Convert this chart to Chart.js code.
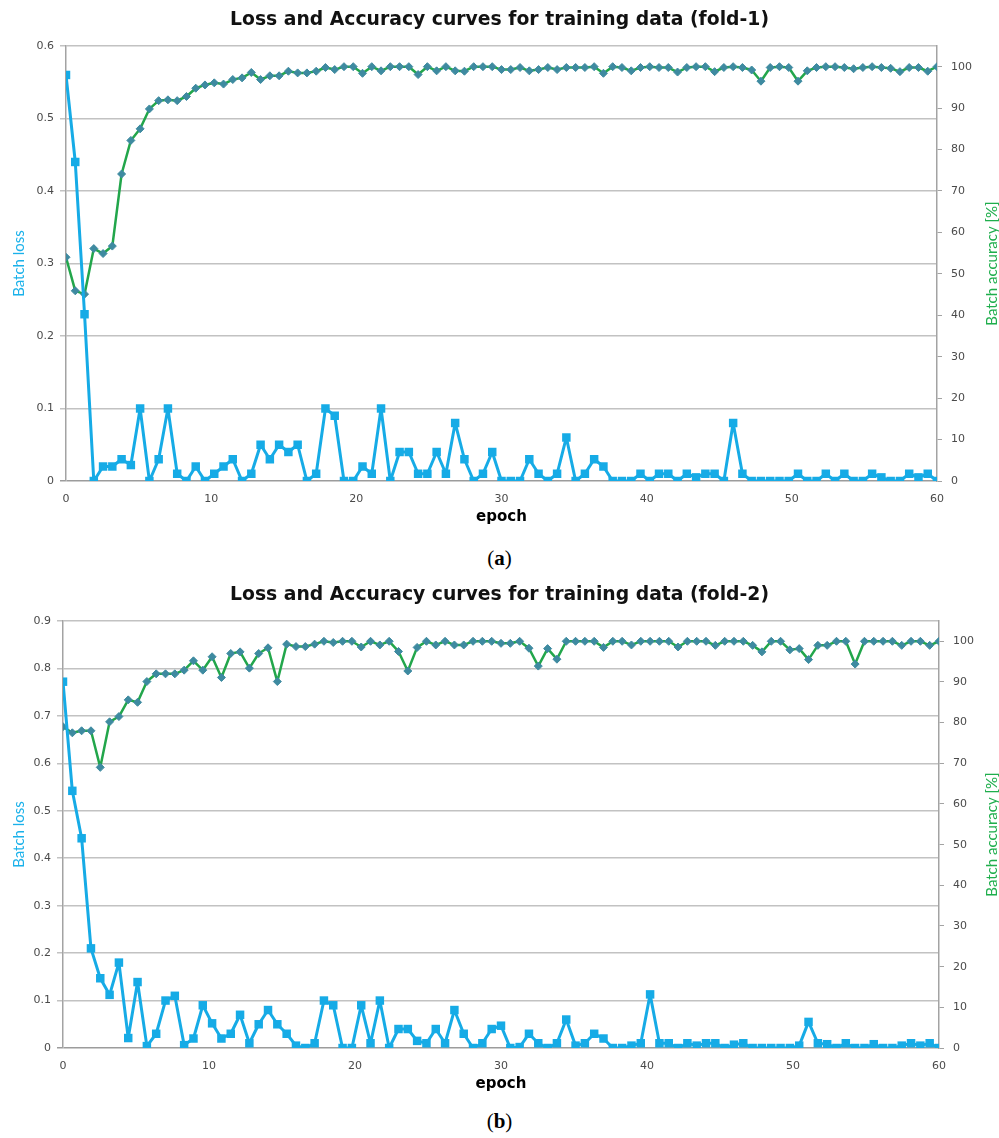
<!DOCTYPE html>
<html>
<head>
<meta charset="utf-8">
<script src="https://cdn.jsdelivr.net/npm/chart.js@4.4.1/dist/chart.umd.min.js"></script>
<style>
  body { margin: 0; background: #fff; width: 999px; height: 1138px; position: relative; overflow: hidden; }
  canvas { position: absolute; left: 0; }
  #chartA { top: 0; }
  #chartB { top: 575px; }
  .cap { position: absolute; left: 0; width: 999px; text-align: center; font: 21px "Liberation Serif", serif; color: #000; }
</style>
</head>
<body>
<canvas id="chartA" width="999" height="530"></canvas>
<div class="cap" style="top:546px">(<b>a</b>)</div>
<canvas id="chartB" width="999" height="522"></canvas>
<div class="cap" style="top:1109px">(<b>b</b>)</div>

<script>
// ====== Data (one point every ~0.64 epoch) ======
const EPOCH_MAX = 60;

const lossFold1 = [
  0.56, 0.44, 0.23, 0.0, 0.02, 0.02, 0.03, 0.022, 0.10, 0.0, 0.03, 0.10, 0.01, 0.0, 0.02, 0.0,
  0.01, 0.02, 0.03, 0.0, 0.01, 0.05, 0.03, 0.05, 0.04, 0.05, 0.0, 0.01, 0.10, 0.09, 0.0,
  0.0, 0.02, 0.01, 0.10, 0.0, 0.04, 0.04, 0.01, 0.01, 0.04, 0.01, 0.08, 0.03, 0.0, 0.01, 0.04,
  0.0, 0.0, 0.0, 0.03, 0.01, 0.0, 0.01, 0.06, 0.0, 0.01, 0.03, 0.02, 0.0, 0.0, 0.0, 0.01, 0.0, 0.01,
  0.01, 0.0, 0.01, 0.005, 0.01, 0.01, 0.0, 0.08, 0.01, 0.0, 0.0, 0.0, 0.0, 0.0, 0.01, 0.0,
  0.0, 0.01, 0.0, 0.01, 0.0, 0.0, 0.01, 0.005, 0.0, 0.0, 0.01, 0.005, 0.01, 0.0
];
const accFold1 = [
  54.0, 45.9, 45.1, 56.1, 54.9, 56.7, 74.1, 82.2, 85.0, 89.8, 91.8, 92.0, 91.8, 92.8, 94.8,
  95.6, 96.1, 95.8, 96.9, 97.3, 98.6, 96.9, 97.8, 97.8, 98.9, 98.5, 98.5, 98.9, 99.8, 99.3,
  100, 100, 98.4, 100, 99.0, 100, 100, 100, 98.1, 100, 99.0, 100, 99.0, 98.9, 100, 100, 100,
  99.3, 99.3, 99.8, 99.0, 99.3, 99.8, 99.3, 99.8, 99.8, 99.8, 100, 98.4, 100, 99.8, 99.0, 99.8, 100, 99.8,
  99.8, 98.7, 99.8, 100, 100, 98.8, 99.8, 100, 99.8, 99.2, 96.5, 99.8, 100, 99.8, 96.5,
  99.0, 99.8, 100, 100, 99.8, 99.5, 99.8, 100, 99.8, 99.6, 98.8, 99.8, 99.8, 98.9, 100
];

const lossFold2 = [
  0.772, 0.542, 0.442, 0.21, 0.147, 0.112, 0.18, 0.021, 0.139, 0.004, 0.03, 0.10, 0.11, 0.006,
  0.02, 0.09, 0.052, 0.02, 0.03, 0.07, 0.01, 0.05, 0.08, 0.05, 0.03, 0.005, 0.0, 0.01, 0.10, 0.09, 0.0,
  0.0, 0.09, 0.01, 0.10, 0.0, 0.04, 0.04, 0.015, 0.01, 0.04, 0.01, 0.08, 0.03, 0.0, 0.01, 0.04,
  0.047, 0.0, 0.002, 0.03, 0.01, 0.0, 0.01, 0.06, 0.005, 0.01, 0.03, 0.02, 0.0, 0.0, 0.005, 0.01, 0.113, 0.01,
  0.01, 0.0, 0.01, 0.005, 0.01, 0.01, 0.0, 0.007, 0.01, 0.0, 0.0, 0.0, 0.0, 0.0, 0.005,
  0.055, 0.01, 0.008, 0.0, 0.01, 0.0, 0.0, 0.008, 0.0, 0.0, 0.005, 0.01, 0.005, 0.01, 0.0
];
const accFold2 = [
  79.0, 77.5, 78.0, 78.0, 69.0, 80.2, 81.5, 85.6, 85.0, 90.1, 92.0, 92.0, 92.0, 92.9, 95.2,
  92.9, 96.2, 91.1, 97.0, 97.4, 93.4, 97.0, 98.4, 90.1, 99.3, 98.7, 98.7, 99.3, 100, 99.7, 100,
  100, 98.6, 100, 99.1, 100, 97.5, 92.7, 98.5, 100, 99.1, 100, 99.1, 99.1, 100, 100, 100,
  99.5, 99.5, 100, 98.3, 93.9, 98.2, 95.6, 100, 100, 100, 100, 98.5, 100, 100, 99.1, 100, 100, 100,
  100, 98.6, 100, 100, 100, 99.0, 100, 100, 100, 99.0, 97.4, 100, 100, 97.9, 98.2,
  95.5, 99.0, 99.0, 100, 100, 94.4, 100, 100, 100, 100, 99.0, 100, 100, 99.0, 100
];

// ====== Styles ======
const BLUE = "#16abe6";
const GREEN = "#22a64b";
const TEAL = "#3e8aa0";
const GRID = "#c2c2c2";
const AXIS = "#a3a3a3";
const TICK_FONT = { family: "DejaVu Sans", size: 11 };
const TICK_COLOR = "#4a4a4a";

// draws the right axis title reading bottom-to-top, like the left one
const rightTitle = {
  id: "rightTitle",
  afterDraw(chart, args, opts) {
    const { ctx, chartArea } = chart;
    ctx.save();
    ctx.translate(opts.x, (chartArea.top + chartArea.bottom) / 2);
    ctx.rotate(-Math.PI / 2);
    ctx.font = "15px Lato";
    ctx.fillStyle = "#1fae4c";
    ctx.textAlign = "center";
    ctx.textBaseline = "middle";
    ctx.fillText(opts.text, 0, 0);
    ctx.restore();
  }
};

function makeChart(id, title, loss, acc, lossMax, leftW, rightW) {
  const epochs = loss.map((_, i) => i * EPOCH_MAX / (loss.length - 1));

  new Chart(document.getElementById(id), {
    type: "line",
    data: {
      datasets: [
        {
          label: "Batch loss",
          data: loss.map((v, i) => ({ x: epochs[i], y: v })),
          yAxisID: "yLoss",
          borderColor: BLUE,
          backgroundColor: BLUE,
          borderWidth: 3,
          borderJoinStyle: "round",
          pointStyle: "rect",
          pointRadius: 6,
          pointBorderWidth: 0,
          tension: 0
        },
        {
          label: "Batch accuracy [%]",
          data: acc.map((v, i) => ({ x: epochs[i], y: v })),
          yAxisID: "yAcc",
          borderColor: GREEN,
          backgroundColor: TEAL,
          borderWidth: 2.5,
          borderJoinStyle: "round",
          pointStyle: "rectRot",
          pointRadius: 4,
          pointBorderColor: TEAL,
          pointBorderWidth: 1,
          tension: 0
        }
      ]
    },
    options: {
      responsive: false,
      animation: false,
      devicePixelRatio: 1,
      layout: { padding: 0 },
      plugins: {
        legend: { display: false },
        tooltip: { enabled: false },
        title: {
          display: true,
          text: title,
          color: "#111",
          font: { family: "DejaVu Sans", size: 18.8, weight: "bold" },
          padding: { top: 9, bottom: 14.4 }
        },
        rightTitle: { text: "Batch accuracy [%]", x: 992 }
      },
      scales: {
        x: {
          type: "linear",
          min: 0,
          max: EPOCH_MAX,
          ticks: { stepSize: 10, padding: 4, font: TICK_FONT, color: TICK_COLOR },
          grid: { display: false },
          border: { display: false },
          title: {
            display: true,
            text: "epoch",
            color: "#000",
            font: { family: "DejaVu Sans", size: 15, weight: "bold" },
            padding: { top: 0, bottom: 4 }
          },
          afterFit(s) { s.height = 49; }
        },
        yLoss: {
          position: "left",
          min: 0,
          max: lossMax,
          ticks: { stepSize: 0.1, padding: 6, font: TICK_FONT, color: TICK_COLOR },
          grid: {
            color: c => (c.tick && c.tick.value === 0 ? "#9c9c9c" : GRID),
            lineWidth: 1.5,
            tickLength: 6
          },
          border: { color: AXIS, width: 1.5 },
          title: {
            display: true,
            text: "Batch loss",
            color: "#1ab1ea",
            font: { family: "Lato", size: 15 },
            padding: { top: 10, bottom: 0 }
          },
          afterFit(s) { s.width = leftW; }
        },
        yAcc: {
          position: "right",
          min: 0,
          max: 105,
          afterBuildTicks(s) { s.ticks = s.ticks.filter(t => t.value <= 100); },
          ticks: { stepSize: 10, padding: 9, font: TICK_FONT, color: TICK_COLOR },
          grid: { drawOnChartArea: false, color: AXIS, tickLength: 5 },
          border: { color: AXIS, width: 1.5 },
          afterFit(s) { s.width = rightW; }
        }
      }
    },
    plugins: [rightTitle]
  });
}

makeChart("chartA", "Loss and Accuracy curves for training data (fold-1)", lossFold1, accFold1, 0.6, 66, 62);
makeChart("chartB", "Loss and Accuracy curves for training data (fold-2)", lossFold2, accFold2, 0.9, 63, 60);
</script>
</body>
</html>
